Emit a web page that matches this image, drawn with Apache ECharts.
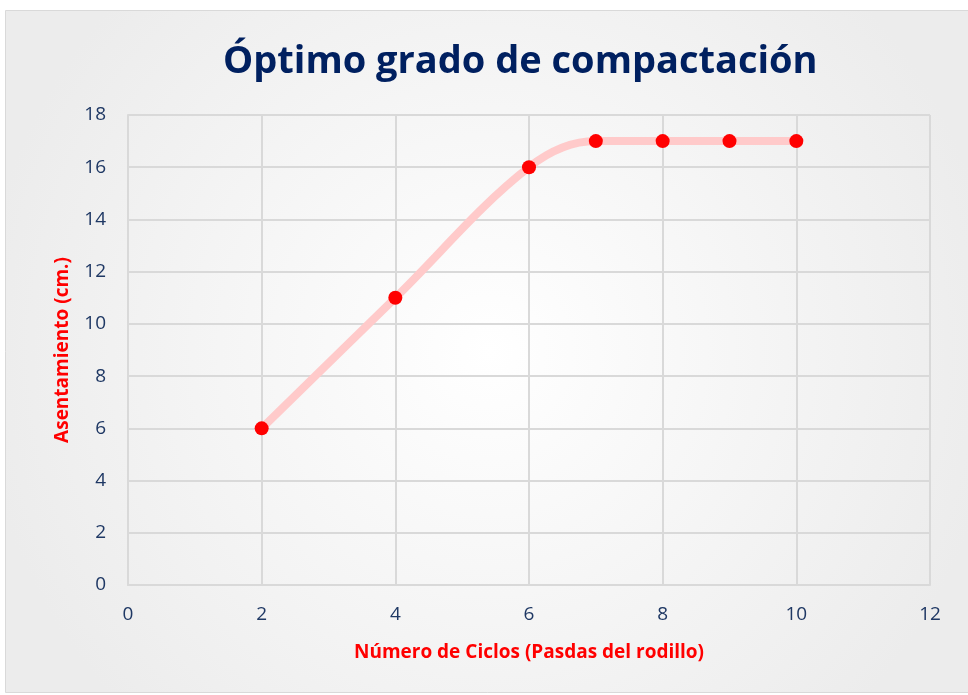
<!DOCTYPE html>
<html>
<head>
<meta charset="utf-8">
<script src="https://cdn.jsdelivr.net/npm/echarts@6/dist/echarts.min.js"></script>
<style>
  html, body { margin: 0; padding: 0; background: #fff; }
  #chart { width: 968px; height: 695px; }
</style>
</head>
<body>
<div id="chart"></div>
<script>
// data
const ciclos = [2, 4, 6, 7, 8, 9, 10];
const asentamiento = [6, 11, 16, 17, 17, 17, 17];
const xTicks = [0, 2, 4, 6, 8, 10, 12];
const yTicks = [0, 2, 4, 6, 8, 10, 12, 14, 16, 18];

const navy = '#1f3864';
const font = '"Open Sans", "Noto Sans", sans-serif';

let myChart = echarts.init(document.getElementById('chart'));
let option = {
  animation: false,
  graphic: [
    {
      type: 'rect',
      z: -10,
      shape: { x: 5.5, y: 10.5, width: 968, height: 682 },
      style: {
        fill: {
          type: 'radial', x: 0.5, y: 0.5, r: 0.75,
          colorStops: [
            { offset: 0, color: '#ffffff' },
            { offset: 1, color: '#ececec' }
          ]
        },
        stroke: '#d9d9d9',
        lineWidth: 1
      }
    }
  ],
  title: {
    text: 'Óptimo grado de compactación',
    left: 218,
    top: 38,
    textStyle: {
      color: '#002060',
      fontSize: 38,
      fontWeight: 'bold',
      fontFamily: font
    }
  },
  grid: { left: 128, right: 38, top: 115, bottom: 110 },
  xAxis: {
    type: 'value',
    min: xTicks[0],
    max: xTicks[xTicks.length - 1],
    interval: 2,
    name: 'Número de Ciclos (Pasdas del rodillo)',
    nameLocation: 'middle',
    nameGap: 58,
    nameTextStyle: { color: '#ff0000', fontSize: 19, fontWeight: 'bold', fontFamily: font },
    axisLine: { show: true, lineStyle: { color: '#d9d9d9', width: 2 } },
    axisTick: { show: false },
    axisLabel: { color: navy, fontSize: 19, margin: 20, fontFamily: font },
    splitLine: { show: true, lineStyle: { color: '#d9d9d9', width: 2 } }
  },
  yAxis: {
    type: 'value',
    min: yTicks[0],
    max: yTicks[yTicks.length - 1],
    interval: 2,
    name: 'Asentamiento (cm.)',
    nameLocation: 'middle',
    nameGap: 56,
    nameTextStyle: { color: '#ff0000', fontSize: 19, fontWeight: 'bold', fontFamily: font },
    axisLine: { show: true, lineStyle: { color: '#d9d9d9', width: 2 } },
    axisTick: { show: false },
    axisLabel: { color: navy, fontSize: 19, margin: 22, fontFamily: font },
    splitLine: { show: true, lineStyle: { color: '#d9d9d9', width: 2 } }
  },
  series: [
    {
      type: 'line',
      data: ciclos.map((c, i) => [c, asentamiento[i]]),
      smooth: 0.35,
      lineStyle: { color: '#ffcaca', width: 8 },
      symbol: 'circle',
      symbolSize: 14,
      itemStyle: { color: '#ff0000' }
    }
  ]
};

myChart.setOption(option);
window.onresize = myChart.resize;
</script>
</body>
</html>
